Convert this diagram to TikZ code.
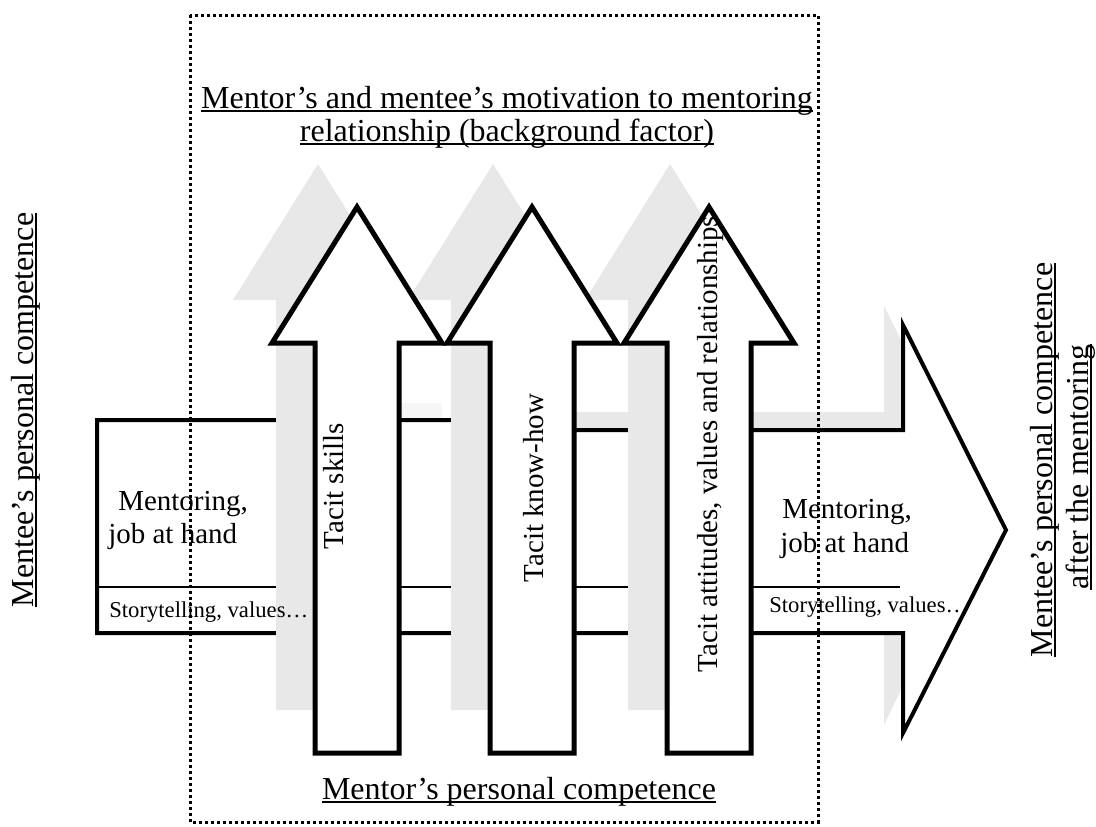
\documentclass[tikz,border=0pt]{standalone}
\usepackage{fontspec}
\setmainfont{Liberation Serif}
\newcommand{\myul}[1]{\setbox0\hbox{#1}\rlap{\copy0}\rule[-3.2pt]{\wd0}{1.5pt}}
\definecolor{shadowgray}{RGB}{232,232,232}
\definecolor{patchgray}{RGB}{246,246,246}
\begin{document}
\begin{tikzpicture}[x=0.75pt,y=-0.75pt,
  uparrow/.style={draw=black, fill=white, line width=3.75pt, line join=miter},
  shadowfill/.style={fill=shadowgray},
  hband/.style={draw=black, fill=white, line width=3pt, line join=miter},
  sepline/.style={draw=black, line width=1pt},
  bigtext/.style={font=\fontsize{24}{24}\selectfont, inner sep=0pt},
  arrowtext/.style={font=\fontsize{21.75}{25}\selectfont, inner sep=0pt},
  smalltext/.style={font=\fontsize{17}{20}\selectfont, inner sep=0pt},
  framebox/.style={draw=black, line width=2.25pt, dash pattern=on 2.25pt off 2.25pt},
]
\useasboundingbox (0,0) rectangle (1096,826);

% shadow of the horizontal arrow
\fill[shadowfill] (540,412) -- (884,412) -- (884,306) -- (987,512) -- (884,725) -- (884,615) -- (540,615) -- cycle;
% horizontal arrow
\draw[hband] (97,420) -- (530,420) -- (530,430) -- (903,430) -- (903,325) -- (1006,530) -- (903,733) -- (903,633) -- (97,633) -- cycle;
\draw[sepline] (97,587) -- (900,587);
\fill[patchgray] (402,403) rectangle (442,418);

% shadows of the up arrows
\foreach \cx in {357,532,709}
  \fill[shadowfill] (\cx-39,164) -- (\cx+46,300) -- (\cx+3,300) -- (\cx+3,710) -- (\cx-81,710) -- (\cx-81,300) -- (\cx-124,300) -- cycle;

% up arrows
\foreach \cx in {357,532,709}
  \draw[uparrow] (\cx,207) -- (\cx+85,343) -- (\cx+42,343) -- (\cx+42,753) -- (\cx-42,753) -- (\cx-42,343) -- (\cx-85,343) -- cycle;

% texts in the up arrows
\node[arrowtext, rotate=90, anchor=base] (tskills) at (343,486) {Tacit skills};
\node[arrowtext, rotate=90, anchor=base] (tknow) at (543,488) {Tacit know-how};
\node[arrowtext, rotate=90, anchor=base] (tatt) at (717,444) {Tacit attitudes, values and relationships};

% texts in the horizontal arrow
\node[arrowtext, anchor=base west] (lment1) at (118,510) {Mentoring,};
\node[arrowtext, anchor=base west] (lment2) at (108,543) {job at hand};
\node[smalltext, anchor=base west] (lstory) at (109,617) {Storytelling, values…};
\node[arrowtext, anchor=base west] (rment1) at (782,518) {Mentoring,};
\node[arrowtext, anchor=base west] (rment2) at (780,552) {job at hand};
\node[smalltext, anchor=base west] (rstory) at (769,612) {Storytelling, values…};

% labels
\node[bigtext, anchor=base] (title1) at (507,108) {\myul{Mentor’s and mentee’s motivation to mentoring}};
\node[bigtext, anchor=base] (title2) at (507,141) {\myul{relationship (background factor)}};
\node[bigtext, anchor=base] (bottomlabel) at (519,799) {\myul{Mentor’s personal competence}};
\node[bigtext, rotate=90, anchor=base] (leftlabel) at (33,410) {\myul{Mentee’s personal competence}};
\node[bigtext, rotate=90, anchor=base] (rightlabel1) at (1052,460) {\myul{Mentee’s personal competence}};
\node[bigtext, rotate=90, anchor=base] (rightlabel2) at (1088,467) {\myul{after the mentoring}};

% dotted frame
\draw[framebox] (190,15) rectangle (818,822);
\end{tikzpicture}
\end{document}
